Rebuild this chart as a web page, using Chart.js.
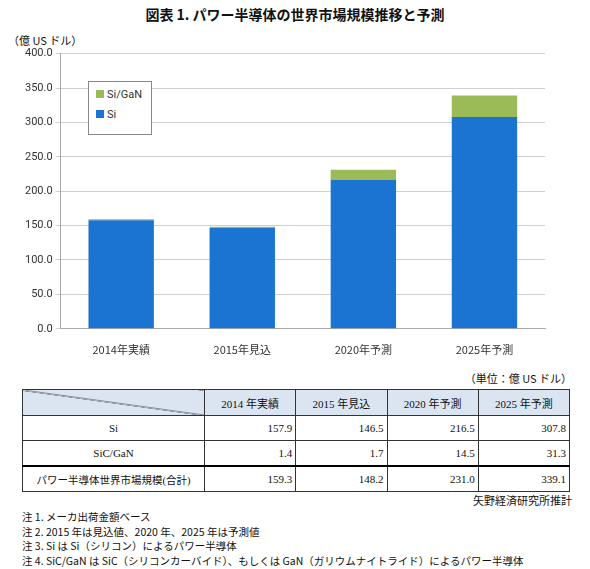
<!DOCTYPE html>
<html><head><meta charset="utf-8">
<script src="https://cdn.jsdelivr.net/npm/chart.js@4"></script>
<style>
body{margin:0;width:590px;height:569px;background:#fff;font-family:"Noto Sans CJK JP",serif;color:#111;position:relative;overflow:hidden}
#title{position:absolute;top:4px;left:0;width:590px;text-align:center;font-weight:bold;font-size:14px}
#unit{position:absolute;top:32px;left:8px;font-size:11px}
#wrap{position:absolute;top:44px;left:0;width:590px;height:318px}
#legend{position:absolute;left:88px;top:81px;width:62px;height:52px;border:1px solid #888;background:#fff;font-size:11px;font-family:Roboto,sans-serif;color:#333}
#legend div{margin:6px 0 0 7px;height:14px}
#legend span{display:inline-block;width:8px;height:8px;margin-right:3px}
#tunit{position:absolute;top:370px;right:18px;font-size:11px}
table{position:absolute;top:389px;left:22px;width:548px;border-collapse:collapse;font-size:11px;font-family:"Liberation Serif","Noto Sans CJK JP",serif;table-layout:fixed}
td{border:1px solid #333;height:24px;padding:0 3px;white-space:nowrap}
td.n{text-align:right}
tr.h td{background:#dbe5f1;text-align:center;height:25px}
#src{position:absolute;top:492px;right:18px;font-size:11px}
#notes{position:absolute;top:510px;left:22px;font-size:10.5px;line-height:14.5px}
</style></head><body>
<div id="title">図表 1.  パワー半導体の世界市場規模推移と予測</div>
<div id="unit">（億 US ドル）</div>
<div id="wrap"><canvas id="c"></canvas></div>
<div id="legend"><div><span style="background:#9bbb59"></span>Si/GaN</div><div><span style="background:#1b74d2"></span>Si</div></div>
<div id="tunit">（単位：億 US ドル）</div>
<table id="t"></table>
<div id="src">矢野経済研究所推計</div>
<div id="notes">注 1.  メーカ出荷金額ベース<br>注 2. 2015 年は見込値、2020 年、2025 年は予測値<br>注 3. Si は Si（シリコン）によるパワー半導体<br>注 4. SiC/GaN は SiC（シリコンカーバイド）、もしくは GaN（ガリウムナイトライド）によるパワー半導体</div>
<script>
const categories = ['2014年実績', '2015年見込', '2020年予測', '2025年予測'];
const tableHeads = ['2014 年実績', '2015 年見込', '2020 年予測', '2025 年予測'];
const si = [157.9, 146.5, 216.5, 307.8];
const sicGan = [1.4, 1.7, 14.5, 31.3];
const total = [159.3, 148.2, 231.0, 339.1];

new Chart(document.getElementById('c'), {
    type: 'bar',
    data: {
        labels: categories,
        datasets: [
            { label: 'Si', data: si, backgroundColor: '#1b74d2', barPercentage: 0.54, categoryPercentage: 1 },
            { label: 'Si/GaN', data: sicGan, backgroundColor: '#9bbb59', barPercentage: 0.54, categoryPercentage: 1 }
        ]
    },
    options: {
        responsive: true, maintainAspectRatio: false, animation: false,
        layout: { padding: { top: 6, left: 22, right: 45 } },
        plugins: { legend: { display: false }, tooltip: { enabled: false } },
        scales: {
            x: { stacked: true, grid: { display: false }, border: { color: '#aaa' },
                 ticks: { color: '#333', font: { size: 11, family: 'Noto Sans CJK JP' }, padding: 6 } },
            y: { stacked: true, min: 0, max: 400,
                 grid: { color: '#d0d0d0', tickLength: 5 }, border: { color: '#aaa' },
                 ticks: { stepSize: 50, color: '#333', font: { size: 11, family: 'Roboto' },
                          callback: v => v.toFixed(1) } }
        }
    }
});

// 表
const t = document.getElementById('t');
let html = '<tr class="h"><td style="width:175px;background:#dbe5f1 linear-gradient(to top right, transparent 49%, #333 50%, transparent 52%)"></td>' +
    tableHeads.map(h => '<td>' + h + '</td>').join('') + '</tr>';
html += '<tr><td style="text-align:center">Si</td>' + si.map(v => '<td class="n">' + v.toFixed(1) + '</td>').join('') + '</tr>';
html += '<tr style="border-bottom:2px solid #000"><td style="text-align:center">SiC/GaN</td>' + sicGan.map(v => '<td class="n">' + v.toFixed(1) + '</td>').join('') + '</tr>';
html += '<tr><td style="text-align:center;font-size:10.5px">パワー半導体世界市場規模(合計)</td>' + total.map(v => '<td class="n">' + v.toFixed(1) + '</td>').join('') + '</tr>';
t.innerHTML = html;
</script>
</body></html>
